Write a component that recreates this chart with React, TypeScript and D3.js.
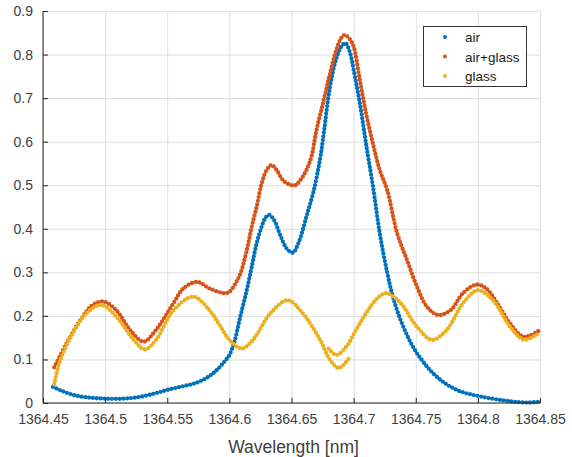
import React, {useEffect, useRef} from 'react';
import * as d3 from 'd3';

const airWl = [1364.458,1364.465,1364.475,1364.485,1364.5,1364.515,1364.528,1364.54,1364.55,1364.562,1364.574,1364.583,1364.59,1364.596,1364.6,1364.604,1364.6085,1364.614,1364.618,1364.622,1364.626,1364.629,1364.632,1364.636,1364.641,1364.646,1364.651,1364.656,1364.662,1364.668,1364.673,1364.676,1364.681,1364.686,1364.6905,1364.6935,1364.697,1364.7,1364.705,1364.71,1364.716,1364.721,1364.727,1364.732,1364.74,1364.751,1364.767,1364.783,1364.802,1364.826,1364.84,1364.85];
const airVal = [0.037,0.028,0.018,0.013,0.010,0.010,0.014,0.022,0.030,0.038,0.047,0.060,0.076,0.095,0.110,0.140,0.195,0.259,0.313,0.367,0.405,0.425,0.432,0.420,0.385,0.355,0.345,0.370,0.428,0.489,0.560,0.620,0.726,0.790,0.820,0.826,0.805,0.765,0.688,0.595,0.489,0.390,0.300,0.240,0.175,0.114,0.060,0.030,0.015,0.004,0.001,0.003];

const mixWl = [1364.459,1364.469,1364.48,1364.49,1364.4985,1364.509,1364.52,1364.531,1364.541,1364.555,1364.563,1364.574,1364.584,1364.596,1364.6,1364.605,1364.609,1364.614,1364.618,1364.622,1364.626,1364.63,1364.634,1364.638,1364.643,1364.648,1364.653,1364.658,1364.662,1364.666,1364.67,1364.676,1364.681,1364.686,1364.69,1364.693,1364.697,1364.7,1364.705,1364.71,1364.716,1364.721,1364.727,1364.735,1364.743,1364.751,1364.759,1364.768,1364.778,1364.788,1364.799,1364.807,1364.818,1364.826,1364.837,1364.849];
const mixVal = [0.082,0.137,0.190,0.225,0.233,0.213,0.168,0.141,0.168,0.229,0.263,0.278,0.263,0.252,0.255,0.275,0.298,0.351,0.405,0.451,0.504,0.535,0.546,0.535,0.512,0.502,0.500,0.515,0.535,0.565,0.625,0.696,0.757,0.810,0.838,0.845,0.835,0.818,0.742,0.665,0.590,0.535,0.489,0.390,0.328,0.267,0.221,0.202,0.213,0.252,0.272,0.262,0.218,0.182,0.152,0.166];

// glass was recorded in two overlapping sweeps
const glassWlA = [1364.459,1364.464,1364.474,1364.485,1364.497,1364.509,1364.523,1364.532,1364.541,1364.555,1364.571,1364.584,1364.593,1364.6,1364.61,1364.619,1364.633,1364.647,1364.659,1364.673,1364.681,1364.688,1364.693,1364.697];
const glassValA = [0.043,0.099,0.160,0.206,0.225,0.198,0.145,0.123,0.145,0.213,0.244,0.213,0.175,0.145,0.125,0.145,0.206,0.236,0.206,0.145,0.099,0.080,0.091,0.106];
const glassWlB = [1364.68,1364.686,1364.694,1364.702,1364.71,1364.719,1364.726,1364.737,1364.751,1364.763,1364.775,1364.788,1364.8,1364.812,1364.826,1364.837,1364.849];
const glassValB = [0.125,0.110,0.129,0.168,0.206,0.240,0.252,0.232,0.175,0.145,0.168,0.229,0.259,0.236,0.175,0.145,0.160];

const xTicks = [1364.45,1364.5,1364.55,1364.6,1364.65,1364.7,1364.75,1364.8,1364.85];
const yTicks = [0,0.1,0.2,0.3,0.4,0.5,0.6,0.7,0.8,0.9];
const legendNames = ['air','air+glass','glass'];
const colors = ['#0072BD','#D95319','#EDB120'];

const W = 572, H = 457;
const m = {left: 43, top: 11, right: 540, bottom: 403};
const FONT = '"Liberation Sans", Arial, sans-serif';

export default function App() {
  const svgRef = useRef<SVGSVGElement>(null);

  useEffect(() => {
    const svg = d3.select(svgRef.current);
    svg.selectAll('*').remove();

    const x = d3.scaleLinear().domain([1364.45, 1364.85]).range([m.left, m.right]);
    const y = d3.scaleLinear().domain([0, 0.9]).range([m.bottom, m.top]);

    // grid
    const grid = svg.append('g').attr('stroke', '#dedede').attr('stroke-width', 1);
    xTicks.forEach(t => grid.append('line')
      .attr('x1', x(t) + 0.5).attr('x2', x(t) + 0.5).attr('y1', m.top).attr('y2', m.bottom));
    yTicks.forEach(t => grid.append('line')
      .attr('x1', m.left).attr('x2', m.right).attr('y1', y(t) + 0.5).attr('y2', y(t) + 0.5));

    const series = [
      {wl: airWl, val: airVal, c: colors[0]},
      {wl: mixWl, val: mixVal, c: colors[1]},
      {wl: glassWlA, val: glassValA, c: colors[2]},
      {wl: glassWlB, val: glassValB, c: colors[2]},
    ];
    const line = d3.line<[number, number]>()
      .x(d => x(d[0])).y(d => y(d[1]))
      .curve(d3.curveCatmullRom.alpha(0.5));

    // marker '.' look: round dots along the curve
    series.forEach(s => {
      const pts = s.wl.map((w, i) => [w, s.val[i]] as [number, number]);
      svg.append('path')
        .attr('d', line(pts))
        .attr('fill', 'none')
        .attr('stroke', s.c)
        .attr('stroke-width', 4.3)
        .attr('stroke-linecap', 'round')
        .attr('stroke-dasharray', '0 3.8');
    });

    // axes (inward ticks, left+bottom only)
    const xAxis = d3.axisBottom(x).tickValues(xTicks).tickSize(-5).tickPadding(11)
      .tickFormat(d => String(d));
    const yAxis = d3.axisLeft(y).tickValues(yTicks).tickSize(-5).tickPadding(10)
      .tickFormat(d => String(d));
    const gx = svg.append('g').attr('transform', `translate(0,${m.bottom})`).call(xAxis);
    const gy = svg.append('g').attr('transform', `translate(${m.left},0)`).call(yAxis);
    [gx, gy].forEach(g => {
      g.select('.domain').attr('stroke', '#262626');
      g.selectAll('.tick line').attr('stroke', '#262626');
      g.selectAll('.tick text').attr('fill', '#404040')
        .style('font-family', FONT).style('font-size', '14px');
    });
    gx.select('.domain').attr('d', `M${m.left},0H${m.right}`);
    gy.select('.domain').attr('d', `M0,${m.bottom}V${m.top}`);

    svg.append('text')
      .attr('x', (m.left + m.right) / 2 + 2).attr('y', 453)
      .attr('text-anchor', 'middle')
      .attr('fill', '#404040')
      .style('font-family', FONT).style('font-size', '17.5px')
      .text('Wavelength [nm]');

    // legend
    const lg = svg.append('g');
    lg.append('rect').attr('x', 423.5).attr('y', 26.5).attr('width', 103).attr('height', 60)
      .attr('fill', '#fff').attr('stroke', '#333').attr('stroke-width', 1);
    legendNames.forEach((name, i) => {
      const cy = 37 + i * 19.5;
      lg.append('circle').attr('cx', 445).attr('cy', cy).attr('r', 2).attr('fill', colors[i]);
      lg.append('text').attr('x', 465).attr('y', cy + 5)
        .attr('fill', '#222')
        .style('font-family', FONT).style('font-size', '13.5px')
        .text(name);
    });
  }, []);

  return (
    <div style={{position: 'fixed', left: 0, top: 0, background: '#fff'}}>
      <svg ref={svgRef} width={W} height={H} style={{display: 'block'}} />
    </div>
  );
}
